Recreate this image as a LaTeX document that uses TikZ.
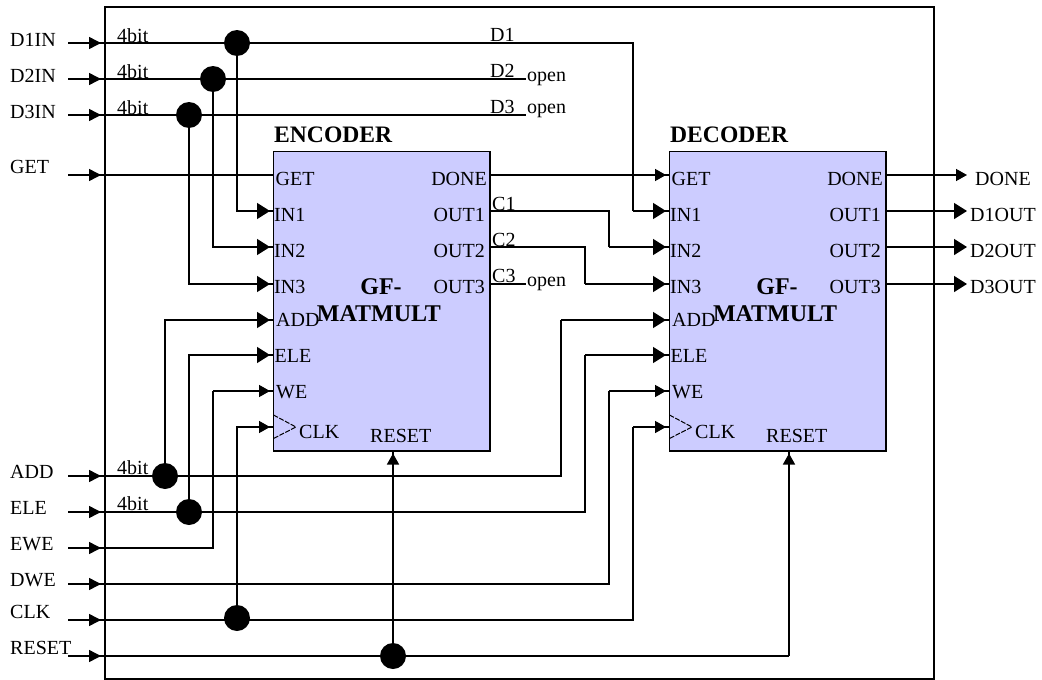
\documentclass[tikz,border=0pt]{standalone}
\usepackage{fontspec}
\setmainfont{Liberation Serif}
\usetikzlibrary{arrows.meta,decorations.markings}
\tikzset{
  wire/.style={draw=black,line width=1.5pt},
  tipin/.style={postaction={decorate,decoration={markings,mark=at position 33pt with {\arrow{Triangle[length=12pt,width=12pt]}}}}},
  tipbig/.style={postaction={decorate,decoration={markings,mark=at position -3.5pt with {\arrow{Triangle[length=13pt,width=16pt]}}}}},
  tipsmall/.style={postaction={decorate,decoration={markings,mark=at position -3.5pt with {\arrow{Triangle[length=11pt,width=12pt]}}}}},
  endbig/.style={-{Triangle[length=13pt,width=16pt]}},
  endsmall/.style={-{Triangle[length=11pt,width=12pt]}},
  block/.style={draw=black,line width=1.5pt,fill=blockfill,minimum width=216.5pt,minimum height=299.5pt,inner sep=0pt},
  dot/.style={circle,fill=black,minimum size=26pt,inner sep=0pt},
  lab/.style={inner sep=0pt,text height=13pt,text depth=0pt,font=\fontsize{20}{20}\selectfont},
  labw/.style={lab,anchor=west},
  labe/.style={lab,anchor=east},
  title/.style={inner sep=0pt,anchor=west,text height=15pt,text depth=0pt,font=\fontsize{23.6}{24}\selectfont\bfseries},
  core/.style={inner sep=0pt,text height=15pt,text depth=0pt,font=\fontsize{24}{24}\selectfont\bfseries},
}
\definecolor{blockfill}{HTML}{CCCCFF}
\begin{document}
\begin{tikzpicture}[x=1pt,y=-1pt]
\useasboundingbox (0,0) rectangle (1042,680);
\node[draw=black,line width=1.5pt,minimum width=829pt,minimum height=672pt,inner sep=0pt] (frame) at (519.5,343) {};
\node[block] (enc) at (381.75,301.25) {};
\node[block] (dec) at (777.75,301.25) {};
\node[title] (enct) at (274,135) {ENCODER};
\node[title] (dect) at (670,135) {DECODER};
\foreach \p/\o in {E/0,D/396}{
  \coordinate (\p GET) at (273.5+\o,175);
  \coordinate (\p IN1) at (273.5+\o,211);
  \coordinate (\p IN2) at (273.5+\o,247);
  \coordinate (\p IN3) at (273.5+\o,284);
  \coordinate (\p ADD) at (273.5+\o,320);
  \coordinate (\p ELE) at (273.5+\o,355);
  \coordinate (\p WE) at (273.5+\o,391);
  \coordinate (\p CLK) at (273.5+\o,427);
  \coordinate (\p DONE) at (490+\o,175);
  \coordinate (\p O1) at (490+\o,211);
  \coordinate (\p O2) at (490+\o,247);
  \coordinate (\p O3) at (490+\o,284);
  \node[labw] (\p lGET) at (275.5+\o,179) {GET};
  \node[labw] (\p lIN1) at (274+\o,215) {IN1};
  \node[labw] (\p lIN2) at (274+\o,251) {IN2};
  \node[labw] (\p lIN3) at (274+\o,287) {IN3};
  \node[labw] (\p lADD) at (276+\o,320) {ADD};
  \node[labw] (\p lELE) at (274.5+\o,356) {ELE};
  \node[labw] (\p lWE) at (276+\o,392) {WE};
  \node[labw] (\p lCLK) at (299+\o,432) {CLK};
  \node[labw] (\p lRST) at (370+\o,436) {RESET};
  \node[labe] (\p lDONE) at (487+\o,179) {DONE};
  \node[labe] (\p lO1) at (485+\o,215) {OUT1};
  \node[labe] (\p lO2) at (485+\o,251) {OUT2};
  \node[labe] (\p lO3) at (485+\o,287) {OUT3};
  \node[core] (\p gf) at (381+\o,287) {GF-};
  \node[core] (\p mm) at (379+\o,314) {MATMULT};
  \coordinate (\p ca) at (273.5+\o,415);
  \coordinate (\p cb) at (296+\o,427);
  \coordinate (\p cc) at (273.5+\o,438.5);
  \draw[dash pattern=on 5pt off 1.5pt,line width=1pt] (\p ca) -- (\p cb) -- (\p cc);
}
% input labels
\foreach \n/\t/\y in {D1IN/D1IN/40,D2IN/D2IN/76,D3IN/D3IN/112,GET/GET/167,ADD/ADD/472,ELE/ELE/508,EWE/EWE/544,DWE/DWE/580,CLK/CLK/612,RESET/RESET/648}{
  \node[labw] (l\n) at (10,\y) {\t};
}
\foreach \n/\y in {D1IN/43,D2IN/79,D3IN/115,GET/175,ADD/476,ELE/512,EWE/548,DWE/584,CLK/620,RESET/656}{
  \coordinate (i\n) at (68,\y);
}
\foreach \n/\y in {a/36,b/72,c/108,d/468,e/504}{
  \node[labw] (bit\n) at (117,\y) {4bit};
}
\node[labw] (nD1) at (490,35) {D1};
\node[labw] (nD2) at (490,71) {D2};
\node[labw] (nD3) at (490,107) {D3};
\node[labw] (nC1) at (492,204) {C1};
\node[labw] (nC2) at (492,240) {C2};
\node[labw] (nC3) at (492,276) {C3};
\node[labw] (op2) at (527,75) {open};
\node[labw] (op3) at (527,107) {open};
\node[labw] (opc) at (527,280) {open};
% dots
\node[dot] (dD1) at (237,43) {};
\node[dot] (dD2) at (213,79) {};
\node[dot] (dD3) at (189,115) {};
\node[dot] (dADD) at (165,476) {};
\node[dot] (dELE) at (189,512) {};
\node[dot] (dCLK) at (237,618) {};
\node[dot] (dRST) at (393,656) {};
% bends and free ends
\coordinate (bD1) at (633,211);
\coordinate (bC1a) at (609,211);
\coordinate (bC1b) at (609,247);
\coordinate (bC2a) at (585,247);
\coordinate (bC2b) at (585,284);
\coordinate (bADD) at (561,320);
\coordinate (bELE) at (585,355);
\coordinate (bEWE) at (213,391);
\coordinate (bDWE) at (609,391);
\coordinate (bCLK) at (633,427);
\coordinate (eD2) at (526,79);
\coordinate (eD3) at (526,115);
\coordinate (eC3) at (526,284);
\coordinate (oDONE) at (967,175);
\coordinate (oD1) at (967,211);
\coordinate (oD2) at (967,247);
\coordinate (oD3) at (967,284);
\node[labw] (lDONEo) at (975,179) {DONE};
\node[labw] (lD1o) at (970,215) {D1OUT};
\node[labw] (lD2o) at (970,251) {D2OUT};
\node[labw] (lD3o) at (970,287) {D3OUT};
% connectors
\draw[wire,tipin] (iD1IN) -- (dD1.center) -| (bD1) ;
\draw[wire,tipbig] (bD1) -- (DIN1);
\draw[wire,tipin] (iD2IN) -- (dD2.center) -- (eD2);
\draw[wire,tipin] (iD3IN) -- (dD3.center) -- (eD3);
\draw[wire,tipin] (iGET) -- (EGET);
\draw[wire,tipbig] (dD1.center) |- (EIN1);
\draw[wire,tipbig] (dD2.center) |- (EIN2);
\draw[wire,tipbig] (dD3.center) |- (EIN3);
\draw[wire,tipbig] (dADD.center) |- (EADD);
\draw[wire,tipbig] (dELE.center) |- (EELE);
\draw[wire,tipin] (iEWE) -| (bEWE);
\draw[wire,tipsmall] (bEWE) -- (EWE);
\draw[wire,tipsmall] (dCLK.center) |- (ECLK);
\draw[wire,tipin] (iADD) -- (dADD.center) -| (bADD);
\draw[wire,tipbig] (bADD) -- (DADD);
\draw[wire,tipin] (iELE) -- (dELE.center) -| (bELE);
\draw[wire,tipbig] (bELE) -- (DELE);
\draw[wire,tipin] (iDWE) -| (bDWE);
\draw[wire,tipsmall] (bDWE) -- (DWE);
\draw[wire,tipin] (iCLK) -| (bCLK);
\draw[wire,tipsmall] (bCLK) -- (DCLK);
\coordinate (bRST) at (789,656);
\coordinate (ERb) at (393,450);
\coordinate (DRb) at (789,450);
\draw[wire,tipin] (iRESET) -- (dRST.center) -- (bRST);
\draw[wire,tipsmall] (dRST.center) -- (ERb);
\draw[wire,tipsmall] (bRST) -- (DRb);
\draw[wire,tipsmall] (EDONE) -- (DGET);
\draw[wire] (EO1) -- (bC1a) -- (bC1b);
\draw[wire,tipbig] (bC1b) -- (DIN2);
\draw[wire] (EO2) -- (bC2a) -- (bC2b);
\draw[wire,tipbig] (bC2b) -- (DIN3);
\draw[wire] (EO3) -- (eC3);
\draw[wire,endsmall] (DDONE) -- (oDONE);
\draw[wire,endbig] (DO1) -- (oD1);
\draw[wire,endbig] (DO2) -- (oD2);
\draw[wire,endbig] (DO3) -- (oD3);
\end{tikzpicture}
\end{document}
